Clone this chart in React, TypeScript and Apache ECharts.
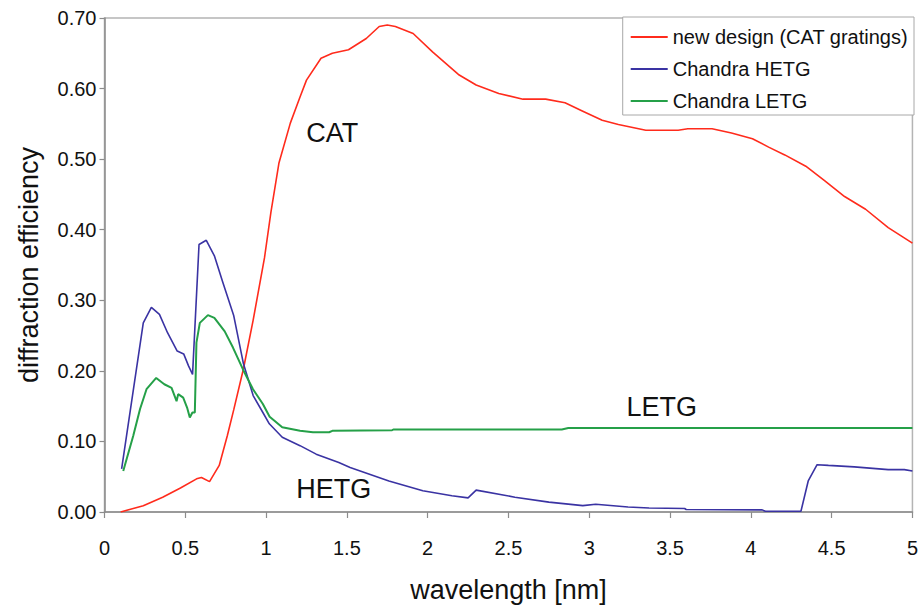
import React, { useEffect, useRef } from "react";
import * as echarts from "echarts";

const FONT = "'Liberation Sans', Arial, sans-serif";

// CAT gratings (new design)
const catX = [0.10, 0.24, 0.36, 0.47, 0.57, 0.60, 0.65, 0.71, 0.76, 0.80, 0.86, 0.92, 0.99, 1.03, 1.08, 1.15, 1.21, 1.25, 1.34, 1.41, 1.51, 1.62, 1.70, 1.75, 1.80, 1.91, 2.03, 2.19, 2.30, 2.44, 2.59, 2.73, 2.85, 2.96, 3.08, 3.18, 3.35, 3.55, 3.61, 3.76, 3.88, 4.01, 4.11, 4.21, 4.34, 4.46, 4.58, 4.71, 4.85, 5.00];
const catY = [0.000, 0.009, 0.021, 0.034, 0.047, 0.049, 0.043, 0.066, 0.108, 0.145, 0.203, 0.272, 0.360, 0.425, 0.495, 0.551, 0.588, 0.612, 0.643, 0.650, 0.655, 0.671, 0.688, 0.690, 0.688, 0.678, 0.652, 0.620, 0.605, 0.593, 0.585, 0.585, 0.580, 0.568, 0.555, 0.549, 0.541, 0.541, 0.543, 0.543, 0.537, 0.529, 0.517, 0.506, 0.490, 0.469, 0.447, 0.429, 0.403, 0.381];

// Chandra HETG
const hetgX = [0.106, 0.24, 0.29, 0.34, 0.39, 0.45, 0.49, 0.52, 0.545, 0.585, 0.63, 0.68, 0.73, 0.80, 0.86, 0.92, 0.98, 1.02, 1.10, 1.21, 1.31, 1.45, 1.52, 1.76, 1.97, 2.15, 2.25, 2.30, 2.54, 2.75, 2.96, 3.04, 3.24, 3.37, 3.59, 3.60, 4.07, 4.09, 4.31, 4.355, 4.41, 4.48, 4.64, 4.85, 4.95, 5.00];
const hetgY = [0.061, 0.268, 0.290, 0.280, 0.254, 0.228, 0.224, 0.207, 0.195, 0.379, 0.385, 0.363, 0.327, 0.278, 0.210, 0.165, 0.141, 0.125, 0.106, 0.094, 0.082, 0.070, 0.063, 0.044, 0.030, 0.023, 0.020, 0.031, 0.021, 0.014, 0.009, 0.011, 0.007, 0.0056, 0.005, 0.0035, 0.003, 0.001, 0.001, 0.044, 0.067, 0.066, 0.064, 0.060, 0.060, 0.058];

// Chandra LETG
const letgX = [0.116, 0.178, 0.22, 0.26, 0.32, 0.37, 0.415, 0.446, 0.456, 0.487, 0.511, 0.528, 0.544, 0.559, 0.569, 0.59, 0.64, 0.68, 0.744, 0.795, 0.857, 0.919, 0.98, 1.022, 1.10, 1.21, 1.29, 1.39, 1.41, 1.78, 1.79, 2.83, 2.87, 5.00];
const letgY = [0.058, 0.108, 0.146, 0.174, 0.190, 0.181, 0.176, 0.157, 0.167, 0.162, 0.148, 0.134, 0.141, 0.141, 0.240, 0.268, 0.279, 0.275, 0.256, 0.233, 0.202, 0.174, 0.153, 0.135, 0.120, 0.115, 0.113, 0.113, 0.115, 0.116, 0.117, 0.117, 0.119, 0.119];

const seriesNames = ["new design (CAT gratings)", "Chandra HETG", "Chandra LETG"];
const seriesColors = ["#ff2b1c", "#3a33a3", "#25a048"];

const annotations = [
  { text: "CAT", x: 1.248, y: 0.537 },
  { text: "HETG", x: 1.186, y: 0.0325 },
  { text: "LETG", x: 3.231, y: 0.1485 },
];

const zip = (xs: number[], ys: number[]) => xs.map((x, i) => [x, ys[i]]);

export default function App() {
  const ref = useRef<HTMLDivElement>(null);
  useEffect(() => {
    const chart = echarts.init(ref.current!, null, { renderer: "svg" });
    const datasets = [zip(catX, catY), zip(hetgX, hetgY), zip(letgX, letgY)];
    chart.setOption({
      animation: false,
      backgroundColor: "#ffffff",
      textStyle: { fontFamily: FONT },
      grid: {
        left: 104.5,
        right: 6.5,
        top: 18,
        bottom: 95,
        show: true,
        borderColor: "#b4b4b4",
        borderWidth: 1.5,
      },
      legend: {
        orient: "vertical",
        right: 7,
        top: 17,
        padding: [10, 6, 4, 8],
        icon: "rect",
        itemWidth: 37,
        itemHeight: 2,
        itemGap: 12,
        backgroundColor: "#ffffff",
        borderColor: "#a8a8a8",
        borderWidth: 1,
        borderRadius: 0,
        textStyle: { fontFamily: FONT, fontSize: 20, color: "#111", lineHeight: 20 },
        data: seriesNames,
      },
      xAxis: {
        type: "value",
        min: 0,
        max: 5,
        interval: 0.5,
        name: "wavelength [nm]",
        nameLocation: "middle",
        nameGap: 64,
        nameTextStyle: { fontFamily: FONT, fontSize: 27, color: "#111" },
        axisLine: { lineStyle: { color: "#8c8c8c", width: 1.5 } },
        axisTick: { show: true, length: 6, lineStyle: { color: "#8c8c8c", width: 1.2 } },
        axisLabel: { fontFamily: FONT, fontSize: 20, color: "#111", margin: 26 },
        splitLine: { show: false },
      },
      yAxis: {
        type: "value",
        min: 0,
        max: 0.7,
        interval: 0.1,
        name: "diffraction efficiency",
        nameLocation: "middle",
        nameGap: 62,
        nameTextStyle: { fontFamily: FONT, fontSize: 27, color: "#111" },
        axisLine: { show: true, lineStyle: { color: "#8c8c8c", width: 1.5 } },
        axisTick: { show: true, length: 5, lineStyle: { color: "#8c8c8c", width: 1.2 } },
        axisLabel: {
          fontFamily: FONT,
          fontSize: 20,
          color: "#111",
          margin: 8,
          formatter: (v: number) => v.toFixed(2),
        },
        splitLine: { show: false },
      },
      series: datasets.map((d, i) => ({
        name: seriesNames[i],
        type: "line",
        data: d,
        symbol: "none",
        smooth: false,
        color: seriesColors[i],
        itemStyle: { color: seriesColors[i] },
        lineStyle: { color: seriesColors[i], width: i === 2 ? 2 : 1.6 },
      })),
    });
    const graphic = annotations.map((a) => {
      const p = chart.convertToPixel({ gridIndex: 0 }, [a.x, a.y]) as number[];
      return {
        type: "text",
        x: p[0],
        y: p[1],
        style: {
          text: a.text,
          fontFamily: FONT,
          fontSize: 27,
          fill: "#111",
          align: "left",
          verticalAlign: "middle",
          textAlign: "left",
          textVerticalAlign: "middle",
        },
      };
    });
    chart.setOption({ graphic });
    return () => chart.dispose();
  }, []);
  return (
    <div
      ref={ref}
      style={{ position: "fixed", left: 0, top: 0, width: 921, height: 608 }}
    />
  );
}
